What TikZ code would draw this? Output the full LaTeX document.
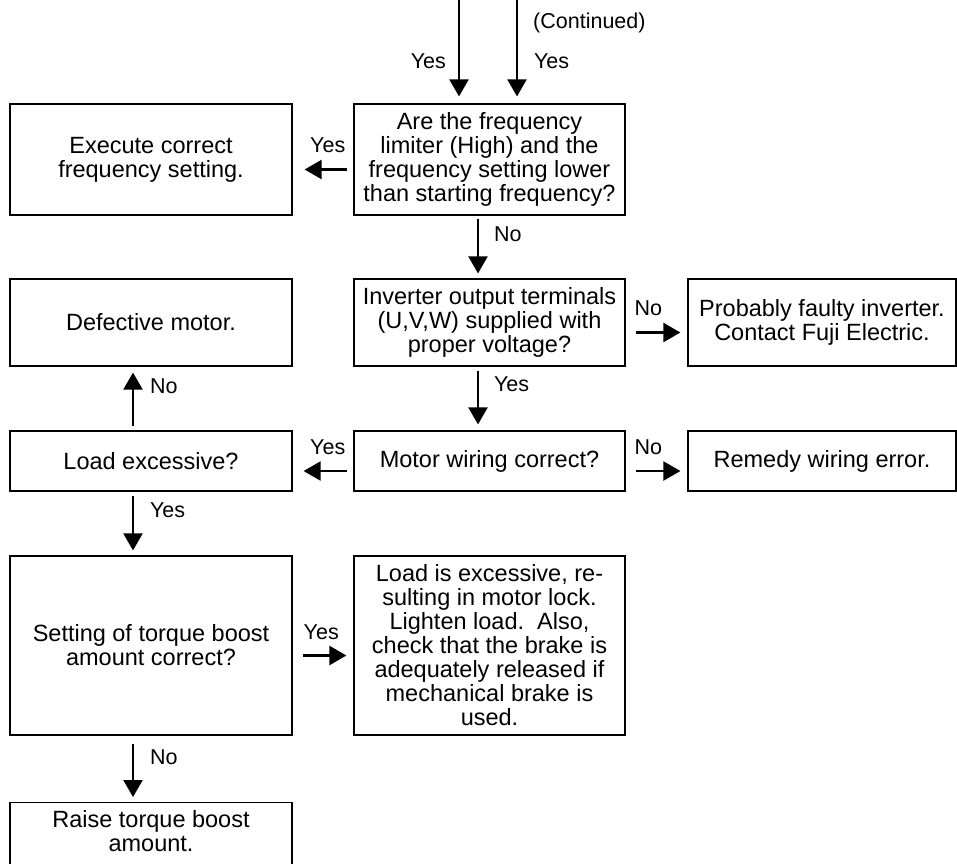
\documentclass[tikz,border=0pt]{standalone}
\usepackage{fontspec}
\setmainfont{Liberation Sans}
\usetikzlibrary{arrows.meta}

\begin{document}
\begin{tikzpicture}[x=1pt, y=-1pt,
    box/.style={draw, line width=1.2pt, align=center, inner sep=2pt, font=\fontsize{23.5}{24}\selectfont},
    arr/.style={line width=2.2pt, -{Triangle[width=19pt, length=17pt]}, shorten <=4pt, shorten >=5pt},
    lbl/.style={inner sep=0pt, font=\fontsize{21.5}{24}\selectfont}]
    \useasboundingbox (0,0) rectangle (957,863);
    \clip (0,0) rectangle (957,863);

    % incoming arrows
    \coordinate (in1) at (459,-5);
    \coordinate (in2) at (517,-5);
    \node[lbl, anchor=base west] (cont) at (533,28.7) {(Continued)};

    % boxes, first row
    \node[box, minimum width=282pt, minimum height=111pt] (exec) at (151,159.5) {Execute correct\\frequency setting.};
    \node[box, minimum width=271pt, minimum height=111pt] (freq) at (489.5,159.5) {Are the frequency\\limiter (High) and the\\frequency setting lower\\than starting frequency?};

    % boxes, second row
    \node[box, minimum width=282pt, minimum height=87pt] (defect) at (151,322.5) {Defective motor.};
    \node[box, minimum width=271pt, minimum height=87pt] (inverter) at (489.5,322.5) {Inverter output terminals\\(U,V,W) supplied with\\proper voltage?};
    \node[box, minimum width=268pt, minimum height=87pt] (faulty) at (822,322.5) {Probably faulty inverter.\\Contact Fuji Electric.};

    % boxes, third row
    \node[box, minimum width=282pt, minimum height=60pt] (loadx) at (151,461) {Load excessive?};
    \node[box, minimum width=271pt, minimum height=60pt] (wiring) at (489.5,461) {Motor wiring correct?};
    \node[box, minimum width=268pt, minimum height=60pt] (remedy) at (822,461) {Remedy wiring error.};

    % boxes, fourth row
    \node[box, minimum width=282pt, minimum height=179pt] (torque) at (151,645.5) {Setting of torque boost\\amount correct?};
    \node[box, minimum width=271pt, minimum height=179pt] (lock) at (489.5,645.5) {Load is excessive, re-\\sulting in motor lock.\\Lighten load.\ \ Also,\\check that the brake is\\adequately released if\\mechanical brake is\\used.};

    % last box
    \node[box, minimum width=282pt, minimum height=110pt, anchor=north] (raise) at (151,802) {};
    \node[box, draw=none] (raisetxt) at ([yshift=-29pt]raise.north) {Raise torque boost\\amount.};

    % vertical arrows
    \draw[arr, shorten <=0pt, shorten >=7pt] (in1) -- (in1 |- freq.north)
        node[lbl, at end, anchor=base east, xshift=-12pt, yshift=35.3pt] (lyes1) {Yes};
    \draw[arr, shorten <=0pt, shorten >=7pt] (in2) -- (in2 |- freq.north)
        node[lbl, at end, anchor=base west, xshift=16pt, yshift=35.3pt] (lyes2) {Yes};
    \draw[arr, shorten <=3pt] ([xshift=-11.5pt]freq.south) -- ([xshift=-11.5pt]inverter.north)
        node[lbl, at start, anchor=base west, xshift=15pt, yshift=-25.7pt] (lno1) {No};
    \draw[arr, shorten >=6pt] ([xshift=-11.5pt]inverter.south) -- ([xshift=-11.5pt]wiring.north)
        node[lbl, at start, anchor=base west, xshift=15pt, yshift=-24.7pt] (lyes3) {Yes};
    \draw[arr, shorten >=6pt] ([xshift=-18pt]loadx.north) -- ([xshift=-18pt]defect.south)
        node[lbl, at end, anchor=base west, xshift=16pt, yshift=-26.7pt] (lno2) {No};
    \draw[arr] ([xshift=-18pt]loadx.south) -- ([xshift=-18pt]torque.north)
        node[lbl, at start, anchor=base west, xshift=16pt, yshift=-25.7pt] (lyes4) {Yes};
    \draw[arr, shorten <=8pt] ([xshift=-18pt]torque.south) -- ([xshift=-18pt]raise.north)
        node[lbl, at start, anchor=base west, xshift=16pt, yshift=-28.7pt] (lno3) {No};

    % horizontal arrows
    \draw[arr, shorten <=6pt, shorten >=12pt] ([yshift=-10pt]freq.west) -- ([yshift=-10pt]exec.east)
        node[lbl, at start, anchor=base east, xshift=-7pt, yshift=17pt] (lyes5) {Yes};
    \draw[arr, shorten <=10pt, shorten >=7pt] ([yshift=-10pt]inverter.east) -- ([yshift=-10pt]faulty.west)
        node[lbl, at start, anchor=base west, xshift=8pt, yshift=17pt] (lno4) {No};
    \draw[arr, shorten <=6pt, shorten >=11pt] ([yshift=-10pt]wiring.west) -- ([yshift=-10pt]loadx.east)
        node[lbl, at start, anchor=base east, xshift=-7pt, yshift=17pt] (lyes6) {Yes};
    \draw[arr, shorten <=10pt, shorten >=7pt] ([yshift=-10pt]wiring.east) -- ([yshift=-10pt]remedy.west)
        node[lbl, at start, anchor=base west, xshift=8pt, yshift=17pt] (lno5) {No};
    \draw[arr, shorten <=10pt, shorten >=7pt] ([yshift=-10pt]torque.east) -- ([yshift=-10pt]lock.west)
        node[lbl, at start, anchor=base west, xshift=10pt, yshift=16pt] (lyes7) {Yes};
\end{tikzpicture}
\end{document}
